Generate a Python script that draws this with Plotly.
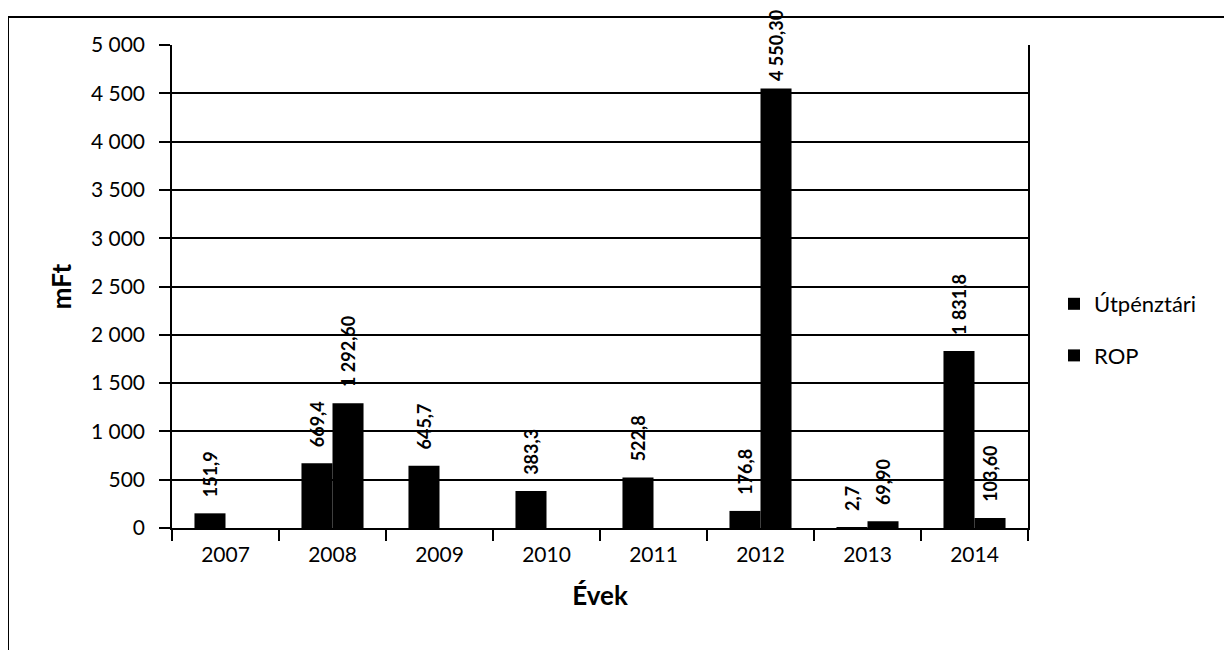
import plotly.graph_objects as go

years = ["2007", "2008", "2009", "2010", "2011", "2012", "2013", "2014"]
utpenztari = [151.9, 669.4, 645.7, 383.3, 522.8, 176.8, 2.7, 1831.8]
rop = [None, 1292.60, None, None, None, 4550.30, 69.90, 103.60]
y_ticks = [0, 500, 1000, 1500, 2000, 2500, 3000, 3500, 4000, 4500, 5000]

FONT = "Lato, 'Open Sans', sans-serif"
OFF = 8  # page body margin
W, H = 1224, 642
# plot area in page pixels: x 172..1028, y 45..528
L = 172 - OFF
T = 45 - OFF
R = W - (1028 - OFF)
B = H - (528 - OFF)
pw, ph = W - L - R, H - T - B


def px_x(page_px):
    return (page_px - OFF - L) / pw


def px_y(page_py):
    return (H - B - (page_py - OFF)) / ph


label_font = dict(family=FONT, size=18, color="black", weight="bold")


def templates(values, fmt):
    # leading no-break spaces lift the label off the bar; less for the tallest bar
    out = []
    for v in values:
        pad = "\u00a0" if (v is not None and v > 4000) else "\u00a0\u00a0\u00a0"
        out.append(pad + fmt)
    return out


fig = go.Figure()
fig.add_trace(go.Bar(
    x=years, y=utpenztari, name="Útpénztári", legendgroup="a",
    marker=dict(color="black", line=dict(width=0)),
    texttemplate=templates(utpenztari, "%{y:,.1f}"), textposition="outside", textangle=-90,
    textfont=label_font, constraintext="none", cliponaxis=False,
))
fig.add_trace(go.Bar(
    x=years, y=rop, name="ROP", legendgroup="b",
    marker=dict(color="black", line=dict(width=0)),
    texttemplate=templates(rop, "%{y:,.2f}"), textposition="outside", textangle=-90,
    textfont=label_font, constraintext="none", cliponaxis=False,
))

frame = dict(color="black", width=2)
fig.update_layout(
    width=W, height=H,
    margin=dict(l=L, r=R, t=T, b=B, autoexpand=False),
    paper_bgcolor="white", plot_bgcolor="white",
    separators=", ",
    barmode="group", bargap=0.42, bargroupgap=0,
    font=dict(family=FONT, size=21, color="black"),
    showlegend=True,
    legend=dict(x=px_x(1054), y=px_y(283), xanchor="left", yanchor="top",
                font=dict(family=FONT, size=22, color="black"),
                itemwidth=30,
                tracegroupgap=20, traceorder="grouped", bgcolor="rgba(0,0,0,0)"),
    shapes=[
        dict(type="line", xref="paper", yref="paper",
             x0=px_x(8), x1=px_x(8), y0=px_y(660), y1=px_y(17), line=frame, layer="below"),
        dict(type="line", xref="paper", yref="paper",
             x0=px_x(8), x1=px_x(1260), y0=px_y(17), y1=px_y(17), line=frame, layer="below"),
    ],
)
fig.update_yaxes(
    range=[0, 5000], tickvals=y_ticks, tickformat=",d",
    showgrid=True, gridcolor="black", gridwidth=1.6,
    showline=True, linecolor="black", linewidth=1.6, mirror=True,
    ticks="outside", ticklen=11, tickcolor="black", tickwidth=1.6,
    ticklabelstandoff=10,
    tickfont=dict(family=FONT, size=21, color="black"),
    zeroline=False,
    title=dict(text="mFt", font=dict(family=FONT, size=26, color="black", weight="bold"), standoff=12),
)
fig.update_xaxes(
    type="category", showgrid=False,
    showline=True, linecolor="black", linewidth=1.6, mirror=False,
    ticks="outside", ticklen=11, tickcolor="black", tickwidth=1.6, tickson="boundaries",
    ticklabelstandoff=7,
    tickfont=dict(family=FONT, size=21, color="black"),
    title=dict(text="Évek", font=dict(family=FONT, size=26, color="black", weight="bold"), standoff=22),
)

fig.write_html("out.html")
